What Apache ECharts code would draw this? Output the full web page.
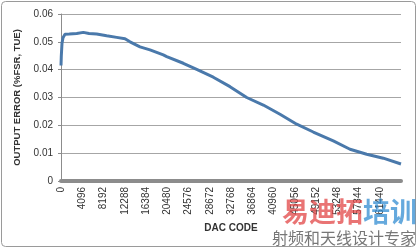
<!DOCTYPE html>
<html><head><meta charset="utf-8">
<script src="https://cdn.jsdelivr.net/npm/echarts@6/dist/echarts.min.js"></script>
<style>html,body{margin:0;padding:0;background:#fff}#c{width:418px;height:249px}</style>
</head><body><div id="c"></div>
<script>
var dacCodes = [0, 60, 193, 385, 771, 1600, 3026, 4298, 5400, 6881, 8800, 10736, 12336, 13300, 15227, 17154, 19718, 20374, 23573, 26156, 29356, 32575, 35794, 38993, 42212, 45432, 48631, 52486, 55705, 58924, 62123, 65535];
var errorValues = [0.0415, 0.045, 0.0495, 0.0515, 0.0527, 0.0528, 0.0530, 0.0534, 0.0530, 0.0528, 0.0522, 0.0516, 0.0511, 0.0500, 0.0482, 0.0471, 0.0453, 0.0447, 0.0423, 0.0401, 0.0373, 0.0339, 0.0300, 0.0273, 0.0240, 0.0204, 0.0176, 0.0144, 0.0114, 0.0096, 0.0082, 0.0061];
var yTicks = [0, 0.01, 0.02, 0.03, 0.04, 0.05, 0.06];
var xTickStep = 4096;
var xName = 'DAC CODE';
var yName = 'OUTPUT ERROR (%FSR, TUE)';

var chart = echarts.init(document.getElementById('c'));
var pts = dacCodes.map(function(c, i){ return [c, errorValues[i]]; });
chart.setOption({
  animation: false,
  grid: {left: 61, right: 17, top: 14, bottom: 68},
  xAxis: {
    type: 'value', min: 0, max: 65536, interval: xTickStep,
    name: xName, nameLocation: 'middle', nameGap: 42,
    nameTextStyle: {fontFamily: 'Liberation Sans', fontWeight: 'bold', fontSize: 10, color: '#333'},
    axisLine: {lineStyle: {color: '#8c8c8c', width: 4}},
    axisTick: {show: false},
    splitLine: {show: false},
    axisLabel: {rotate: 90, fontSize: 10, color: '#333', fontFamily: 'Liberation Sans', margin: 6,
      showMaxLabel: false,
      formatter: function(v){ return v >= 65536 ? '' : String(v); }}
  },
  yAxis: {
    type: 'value', min: yTicks[0], max: yTicks[yTicks.length-1], interval: 0.01,
    name: yName, nameLocation: 'middle', nameGap: 36,
    nameTextStyle: {fontFamily: 'Liberation Sans', fontWeight: 'bold', fontSize: 9.5, color: '#333'},
    axisLine: {show: true, lineStyle: {color: '#8c8c8c', width: 1}},
    axisTick: {show: true, length: 3, lineStyle: {color: '#8c8c8c'}},
    splitLine: {lineStyle: {color: '#a6a6a6', width: 1}},
    axisLabel: {fontSize: 10, color: '#333', fontFamily: 'Liberation Sans', margin: 8,
      formatter: function(v){ return v === 0 ? '0' : v.toFixed(2); }}
  },
  series: [{
    type: 'line', data: pts, showSymbol: false, smooth: false,
    lineStyle: {color: '#4a79ab', width: 3}
  }],
  graphic: [
    {type: 'rect', shape: {x: 1.5, y: 1.5, width: 414, height: 245, r: 4}, style: {fill: 'none', stroke: '#9a9a9a', lineWidth: 1}, z: -1},
    {type: 'text', left: 282, top: 198, style: {text: '易迪拓', fontSize: 27, fontWeight: 'bold', fontFamily: 'Noto Sans CJK SC', fill: 'rgba(225,70,70,0.75)'}, z: 100},
    {type: 'text', left: 363, top: 198, style: {text: '培训', fontSize: 27, fontWeight: 'bold', fontFamily: 'Noto Sans CJK SC', fill: 'rgba(50,140,210,0.75)'}, z: 100},
    {type: 'text', left: 272, top: 230, style: {text: '射频和天线设计专家', fontSize: 16, fontFamily: 'Noto Sans CJK SC', fill: '#777'}, z: 100}
  ]
});
</script></body></html>
